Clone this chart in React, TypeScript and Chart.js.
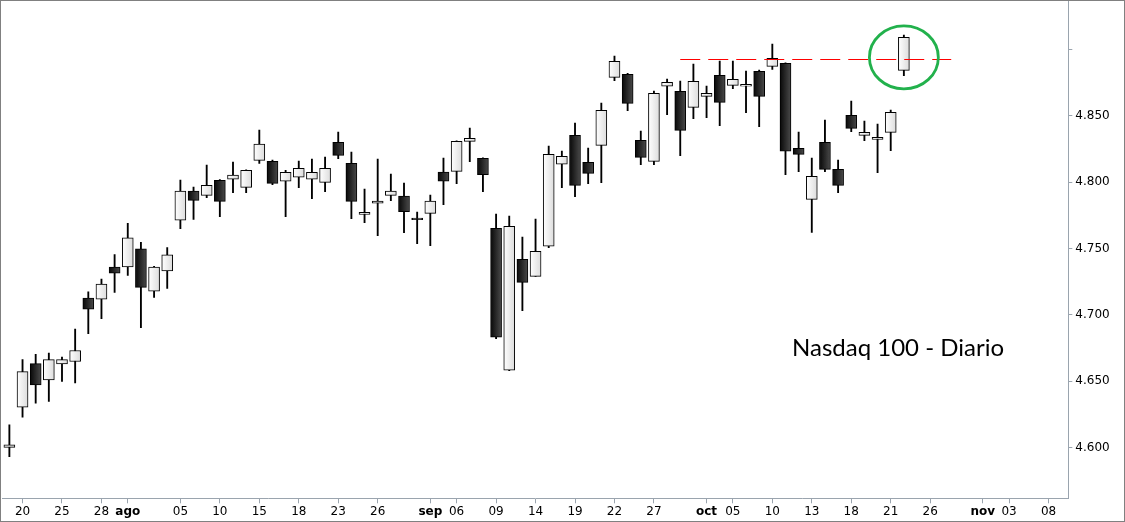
import React, { useEffect, useRef } from "react";
import { Chart, registerables } from "chart.js";

Chart.register(...registerables);

// Trading days shown on the category axis (2016)
const dates = [
  "07-19", "07-20", "07-21", "07-22", "07-25", "07-26", "07-27", "07-28", "07-29",
  "08-01", "08-02", "08-03", "08-04", "08-05", "08-08", "08-09", "08-10", "08-11", "08-12",
  "08-15", "08-16", "08-17", "08-18", "08-19", "08-22", "08-23", "08-24", "08-25", "08-26",
  "08-29", "08-30", "08-31",
  "09-01", "09-02", "09-06", "09-07", "09-08", "09-09", "09-12", "09-13", "09-14", "09-15",
  "09-16", "09-19", "09-20", "09-21", "09-22", "09-23", "09-26", "09-27", "09-28", "09-29", "09-30",
  "10-03", "10-04", "10-05", "10-06", "10-07", "10-10", "10-11", "10-12", "10-13", "10-14",
  "10-17", "10-18", "10-19", "10-20", "10-21", "10-24", "10-25", "10-26", "10-27", "10-28", "10-31",
  "11-01", "11-02", "11-03", "11-04", "11-07", "11-08", "11-09",
];

// Daily OHLC values (Nasdaq 100)
const opens = [
  4600, 4630.4, 4663.2, 4650.9, 4663, 4664.8, 4712.6, 4711.9, 4736.1,
  4736.1, 4749.8, 4717.9, 4733.1, 4771.3, 4793.3, 4790.1, 4801.4, 4802.2, 4796.1,
  4816.5, 4815.7, 4800.7, 4803.7, 4802.2, 4799.9, 4830, 4814.2, 4775.8, 4784.1,
  4790.1, 4789.6, 4773,
  4776.5, 4807.7, 4808.2, 4830.8, 4818, 4765.2, 4658.2, 4741.9, 4729, 4751.7,
  4813.5, 4835.3, 4815, 4827.8, 4879, 4881.3, 4831.6, 4815.7, 4872.3, 4868.5, 4856.4,
  4864.7, 4880.6, 4873, 4872.3, 4883.6, 4887.3, 4889.6, 4825.5, 4787.1, 4830,
  4809.7, 4850.4, 4835.3, 4832.3, 4837.6, 4884.3,
];
const highs = [
  4617, 4666.3, 4670.3, 4671.1, 4668.1, 4689.3, 4717.4, 4727, 4745.5,
  4769, 4754.6, 4736.6, 4750.8, 4801.6, 4796.4, 4812.9, 4801.9, 4815.2, 4809.3,
  4839.3, 4816.7, 4808.9, 4816, 4817.5, 4819, 4837.8, 4822.7, 4794.8, 4817.5,
  4806.2, 4799.4, 4777.5,
  4790.3, 4818.2, 4831.2, 4840.8, 4818.4, 4776, 4774.5, 4758.7, 4772.2, 4827.3,
  4823.5, 4844.6, 4825.8, 4859.7, 4895.1, 4882, 4838.6, 4868.7, 4877.8, 4876.3, 4889.1,
  4872.5, 4891.3, 4891.3, 4883.8, 4884.5, 4904.1, 4890, 4837.8, 4818.2, 4846.9,
  4816.7, 4861.2, 4846.1, 4843.8, 4854.4, 4910.9,
];
const lows = [
  4593, 4622.8, 4633.4, 4634.7, 4649.9, 4648.6, 4685.8, 4697.2, 4716.9,
  4729.8, 4690.3, 4713.1, 4719.9, 4764.9, 4772, 4788.3, 4774, 4792.1, 4792.1,
  4814.2, 4798.1, 4774, 4795.8, 4787.5, 4792.8, 4817.7, 4772.5, 4769.4, 4759.6,
  4786, 4761.9, 4753.6,
  4752.1, 4783, 4798.8, 4815.4, 4792.8, 4682, 4658, 4703.1, 4729, 4750.6,
  4795.8, 4789, 4798.8, 4799.6, 4876.5, 4853.9, 4813.2, 4813.2, 4850.9, 4820, 4847.8,
  4848.6, 4842.6, 4870.5, 4852.4, 4841.8, 4885.1, 4805.6, 4807.9, 4762.2, 4807.9,
  4792.1, 4838, 4831.3, 4807.1, 4823.7, 4880.3,
];
const closes = [
  4602, 4657.2, 4647.1, 4666.3, 4666.3, 4673.1, 4704.2, 4723.2, 4731.5,
  4758.1, 4720.7, 4736.1, 4745.3, 4793.3, 4786.3, 4797.6, 4785.6, 4805.4, 4808.9,
  4828.8, 4799.1, 4807.4, 4810.5, 4807.4, 4810.5, 4820.2, 4785.6, 4777.3, 4785.8,
  4793.3, 4777.7, 4771.7,
  4785.8, 4800.7, 4830.8, 4833.1, 4805.6, 4683.1, 4766.7, 4724.5, 4747.9, 4821,
  4819.5, 4797.6, 4806.7, 4854.2, 4891.1, 4859.4, 4818.7, 4867, 4875.3, 4839.1, 4876,
  4867, 4860.2, 4877.5, 4873.8, 4864.7, 4893.4, 4823.3, 4821, 4804.4, 4809.7,
  4797.6, 4840.6, 4837.6, 4833.8, 4852.7, 4909.2,
];

// Axis tick labels (date -> text)
const tickDates = [
  "07-20", "07-25", "07-28", "08-01", "08-05", "08-10", "08-15", "08-18", "08-23", "08-26",
  "09-01", "09-06", "09-09", "09-14", "09-19", "09-22", "09-27",
  "10-03", "10-05", "10-10", "10-13", "10-18", "10-21", "10-26",
  "11-01", "11-03", "11-08",
];
const tickTexts = [
  "20", "25", "28", "ago", "05", "10", "15", "18", "23", "26",
  "sep", "06", "09", "14", "19", "22", "27",
  "oct", "05", "10", "13", "18", "21", "26",
  "nov", "03", "08",
];
const monthTexts = ["ago", "sep", "oct", "nov"];

const yMin = 4561.7;
const yMax = 4936.6;
const yStep = 50;
const hiddenTickValue = 4900;

// Annotations
const levelValue = 4892.6;
const levelFromIndex = 51;
const levelToIndex = 71.6;
const circleIndex = 68;
const circleValue = 4894.1;
const circleRadiusIdx = 2.62;
const circleRadiusValue = 23.7;
const titleText = "Nasdaq 100 - Diario";

const AXIS_COLOR = "#9aa4ae";
const FONT = "'DejaVu Sans', Verdana, sans-serif";

function fmt(v: number): string {
  const t = Math.floor(v / 1000);
  const r = Math.round(v - t * 1000);
  return `${t}.${String(r).padStart(3, "0")}`;
}

const overlayPlugin = {
  id: "overlay",
  afterDatasetsDraw(chart: any) {
    const { ctx, scales } = chart;
    const x = scales.x;
    const y = scales.y;
    const x0 = x.getPixelForValue(0);
    const step = x.getPixelForValue(1) - x0;
    ctx.save();
    // dashed resistance line
    ctx.strokeStyle = "#ff0000";
    ctx.lineWidth = 1;
    ctx.setLineDash([20, 8]);
    const ly = Math.round(y.getPixelForValue(levelValue)) + 0.5;
    ctx.beginPath();
    ctx.moveTo(x0 + levelFromIndex * step, ly);
    ctx.lineTo(x0 + levelToIndex * step, ly);
    ctx.stroke();
    // green ellipse
    ctx.setLineDash([]);
    ctx.strokeStyle = "#22b14c";
    ctx.lineWidth = 2.8;
    const cx = x0 + circleIndex * step;
    const cy = y.getPixelForValue(circleValue);
    const ry = y.getPixelForValue(circleValue - circleRadiusValue) - cy;
    ctx.beginPath();
    ctx.ellipse(cx, cy, circleRadiusIdx * step, ry, 0, 0, Math.PI * 2);
    ctx.stroke();
    ctx.restore();
  },
  afterDraw(chart: any) {
    const { ctx } = chart;
    ctx.save();
    ctx.font = "24px Lato, 'Open Sans', sans-serif";
    ctx.fillStyle = "#000";
    ctx.textBaseline = "alphabetic";
    ctx.textAlign = "left";
    ctx.fillText(titleText, 791, 355);
    ctx.restore();
  },
};

export default function App() {
  const ref = useRef<HTMLCanvasElement | null>(null);

  useEffect(() => {
    if (!ref.current) return;
    const n = opens.length;
    const bodies = dates.map((_, i) => (i < n ? [opens[i], closes[i]] : null));
    const wicks = dates.map((_, i) => (i < n ? [lows[i], highs[i]] : null));

    const bodyColor = (c: any) => {
      const chart = c.chart;
      const i = c.dataIndex;
      if (i === undefined || !chart.chartArea || i >= n) return "#222";
      const px = chart.scales.x.getPixelForValue(i);
      const g = chart.ctx.createLinearGradient(px - 5.5, 0, px + 5.5, 0);
      if (closes[i] >= opens[i]) {
        g.addColorStop(0, "#ffffff");
        g.addColorStop(1, "#dcdcdc");
      } else {
        g.addColorStop(0, "#080808");
        g.addColorStop(1, "#4a4a4a");
      }
      return g;
    };

    const chart = new Chart(ref.current, {
      type: "bar",
      data: {
        labels: dates,
        datasets: [
          {
            label: "body",
            data: bodies as any,
            backgroundColor: bodyColor as any,
            borderColor: "#000",
            borderWidth: 1,
            borderSkipped: false,
            barThickness: 11,
            grouped: false,
          } as any,
          {
            label: "wick",
            data: wicks as any,
            backgroundColor: "#000",
            borderWidth: 0,
            barThickness: 1.2,
            grouped: false,
          } as any,
        ],
      },
      options: {
        animation: false,
        responsive: false,
        maintainAspectRatio: false,
        layout: { padding: { left: 1.8, top: 0, right: 0, bottom: 0 } },
        plugins: {
          legend: { display: false },
          tooltip: { enabled: false },
          title: { display: false },
        },
        scales: {
          x: {
            type: "category",
            offset: true,
            grid: {
              display: true,
              offset: false,
              drawOnChartArea: false,
              drawTicks: true,
              tickLength: 5,
              color: AXIS_COLOR,
            },
            border: { display: true, color: AXIS_COLOR },
            ticks: {
              autoSkip: false,
              maxRotation: 0,
              minRotation: 0,
              padding: 1.5,
              color: "#000",
              font: ((c: any) => ({
                family: FONT,
                size: 12,
                weight: c.tick && monthTexts.includes(c.tick.label) ? "bold" : "normal",
              })) as any,
              callback: (_v: any, index: number) => {
                const k = tickDates.indexOf(dates[index]);
                return k >= 0 ? tickTexts[k] : null;
              },
            },
            afterFit: (s: any) => {
              s.height = 22.7;
              s.paddingLeft = 0;
              s.paddingRight = 0;
            },
          },
          y: {
            type: "linear",
            position: "right",
            min: yMin,
            max: yMax,
            grid: {
              display: true,
              drawOnChartArea: false,
              drawTicks: true,
              tickLength: 4,
              color: AXIS_COLOR,
            },
            border: { display: true, color: AXIS_COLOR },
            ticks: {
              stepSize: yStep,
              includeBounds: false,
              padding: 3,
              color: "#000",
              font: { family: FONT, size: 12 },
              callback: (v: any) => (Number(v) === hiddenTickValue ? "" : fmt(Number(v))),
            },
            afterFit: (s: any) => {
              s.width = 55.7;
              s.paddingTop = 0;
              s.paddingBottom = 0;
            },
          },
        },
      },
      plugins: [overlayPlugin],
    });
    return () => chart.destroy();
  }, []);

  return (
    <div
      style={{
        position: "absolute",
        left: 0,
        top: 0,
        width: 1125,
        height: 522,
        boxSizing: "border-box",
        border: "1px solid #808080",
        background: "#fff",
      }}
    >
      <canvas ref={ref} width={1123} height={520} style={{ display: "block" }} />
    </div>
  );
}
